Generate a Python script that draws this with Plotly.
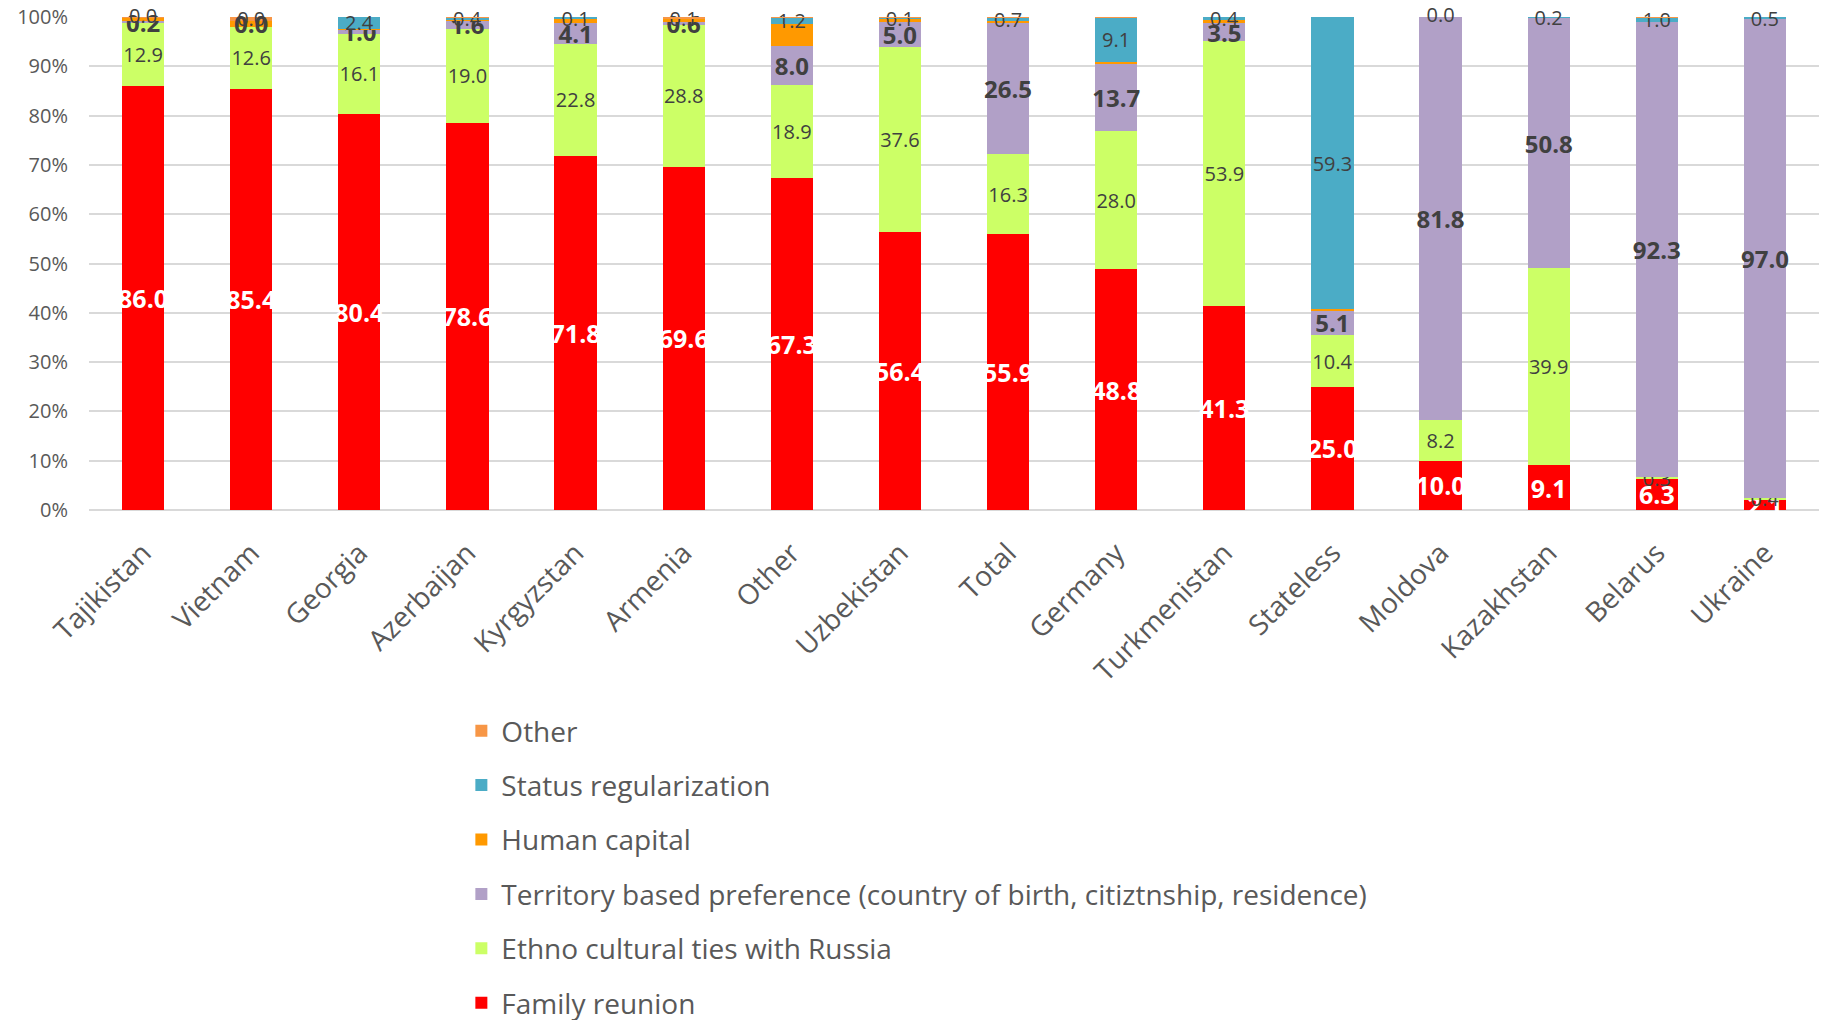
import plotly.graph_objects as go

countries = ["Tajikistan", "Vietnam", "Georgia", "Azerbaijan", "Kyrgyzstan", "Armenia", "Other",
             "Uzbekistan", "Total", "Germany", "Turkmenistan", "Stateless", "Moldova", "Kazakhstan",
             "Belarus", "Ukraine"]
family = [86.0, 85.4, 80.4, 78.6, 71.8, 69.6, 67.3, 56.4, 55.9, 48.8, 41.3, 25.0, 10.0, 9.1, 6.3, 2.1]
ethno = [12.9, 12.6, 16.1, 19.0, 22.8, 28.8, 18.9, 37.6, 16.3, 28.0, 53.9, 10.4, 8.2, 39.9, 0.3, 0.4]
territory = [0.2, 0.0, 1.0, 1.6, 4.1, 0.6, 8.0, 5.0, 26.5, 13.7, 3.5, 5.1, 81.8, 50.8, 92.3, 97.0]
human = [0.7, 1.2, 0.1, 0.3, 1.0, 0.6, 4.4, 0.7, 0.5, 0.3, 0.8, 0.2, 0.0, 0.0, 0.0, 0.0]
status = [0.0, 0.0, 2.4, 0.4, 0.1, 0.1, 1.2, 0.1, 0.7, 9.1, 0.4, 59.3, 0.0, 0.2, 1.0, 0.5]
other = [0.2, 0.8, 0.0, 0.1, 0.0, 0.3, 0.2, 0.2, 0.1, 0.1, 0.0, 0.0, 0.0, 0.0, 0.1, 0.0]

y_ticks = [0, 10, 20, 30, 40, 50, 60, 70, 80, 90, 100]
y_tick_labels = ["0%", "10%", "20%", "30%", "40%", "50%", "60%", "70%", "80%", "90%", "100%"]

FONT = "Open Sans"
DARK = "#404040"
GREY = "#595959"

series = [
    ("Family reunion", family, "#FF0000", dict(color="white", size=25, family=FONT, weight="bold"), True),
    ("Ethno cultural ties with Russia", ethno, "#CCFF66", dict(color=DARK, size=20, family=FONT), True),
    ("Territory based preference (country of birth, citiztnship, residence)", territory, "#B1A0C7",
     dict(color=DARK, size=24, family=FONT, weight="bold"), True),
    ("Human capital", human, "#FF9900", dict(color=DARK, size=20, family=FONT), False),
    ("Status regularization", status, "#4BACC6", dict(color=DARK, size=20, family=FONT), True),
    ("Other", other, "#F79646", dict(color=DARK, size=20, family=FONT), False),
]

fig = go.Figure()
n = len(series)
cum = [0.0] * len(countries)
for i, (name, vals, color, tfont, show_text) in enumerate(series):
    fig.add_trace(go.Bar(
        x=countries, y=vals, name=name, legendgroup=f"g{i}", legendrank=n - i,
        marker=dict(color=color, line=dict(width=0)),
        texttemplate="%{y:.1f}" if show_text else None,
        textposition="inside" if show_text else "none",
        insidetextanchor="middle", textangle=0, constraintext="none",
        textfont=tfont, cliponaxis=False,
    ))
    # labels of zero-height segments (plotly does not draw text for empty bars)
    if show_text:
        zx = [c for c, v in zip(countries, vals) if v == 0]
        zy = [cum[k] for k, v in enumerate(vals) if v == 0]
        zt = [f"{v:.1f}" for v in vals if v == 0]
        if zx:
            fig.add_trace(go.Scatter(
                x=zx, y=zy, text=zt, mode="text", textposition="middle center",
                textfont=tfont, showlegend=False, hoverinfo="skip", cliponaxis=False,
            ))
    cum = [a + b for a, b in zip(cum, vals)]

fig.update_layout(
    width=1820, height=1012,
    barmode="stack", bargap=0.61,
    plot_bgcolor="white", paper_bgcolor="white",
    margin=dict(l=81, r=9, t=9, b=510, autoexpand=False),
    font=dict(family=FONT, color=GREY),
    showlegend=True,
    legend=dict(
        xref="container", yref="container",
        x=0.2491, y=0.3103, xanchor="left", yanchor="top",
        orientation="v", traceorder="grouped",
        tracegroupgap=15, font=dict(size=28, color=GREY, family=FONT),
    ),
    xaxis=dict(tickangle=-45, tickfont=dict(size=28, color=GREY), showgrid=False,
               showline=False, ticks="", automargin=False, ticklabelstandoff=20,
               range=[-0.5, len(countries) - 0.5]),
    yaxis=dict(range=[0, 100], tickvals=y_ticks, ticktext=y_tick_labels, showgrid=True,
               gridcolor="#D9D9D9", gridwidth=1.5, zeroline=True, zerolinecolor="#D9D9D9",
               zerolinewidth=1.5, tickfont=dict(size=20, color=GREY), ticks="",
               automargin=False, ticklabelstandoff=20, ticklabeloverflow="allow"),
)

fig.write_html("out.html")
